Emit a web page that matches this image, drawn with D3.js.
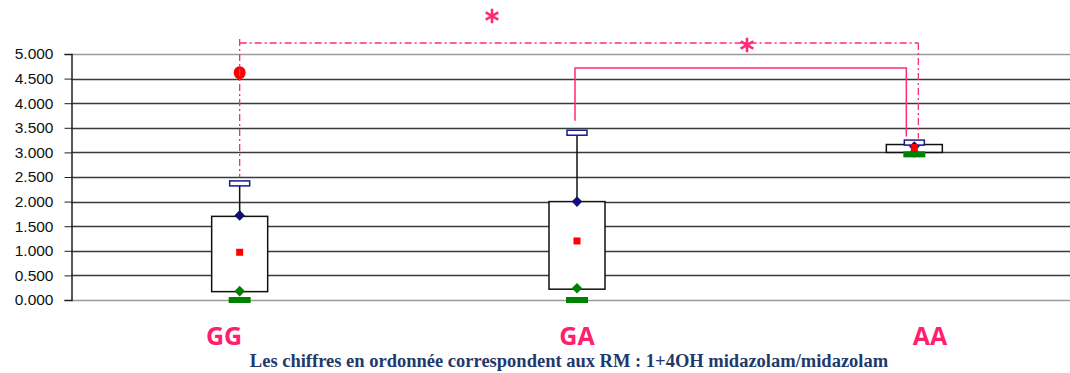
<!DOCTYPE html>
<html><head><meta charset="utf-8">
<script src="https://cdn.jsdelivr.net/npm/d3@7"></script>
<style>body{margin:0;background:#fff;}svg{display:block;}</style>
</head><body><svg id="c" width="1070" height="373"></svg>
<script>
const categories = ["GG", "GA", "AA"];
const boxLow = [0.17, 0.22, 3.00];
const boxHigh = [1.70, 2.00, 3.16];
const capMax = [2.37, 3.40, 3.20];
const q3Marker = [1.72, 2.00, 3.12];
const meanVals = [0.97, 1.20, 3.10];
const q1Marker = [0.18, 0.24, 3.00];
const minBar = [0.00, 0.00, 2.96];
const outliers = [[4.62], [], []];
const yTicks = [0, 0.5, 1, 1.5, 2, 2.5, 3, 3.5, 4, 4.5, 5];
const caption = "Les chiffres en ordonnée correspondent aux RM : 1+4OH midazolam/midazolam";

const svg = d3.select("#c");
const x = d3.scalePoint().domain(categories).range([71, 1083]).padding(0.5);
const xLabel = d3.scalePoint().domain(categories).range([224, 930]);
const y = d3.scaleLinear().domain([0, 5]).range([300, 54]);
const pink = "#ff2a7a";

// gridlines
svg.append("g").selectAll("line").data(yTicks).join("line")
  .attr("x1", 71).attr("x2", 1070)
  .attr("y1", d => Math.round(y(d)) + 0.5).attr("y2", d => Math.round(y(d)) + 0.5)
  .attr("stroke", d => (d === 0 || d === 5) ? "#9a9a9a" : "#3a3a3a")
  .attr("stroke-width", 1.5);

// y axis
const ax = svg.append("g").attr("transform", "translate(71.5,0)")
  .call(d3.axisLeft(y).tickValues(yTicks).tickSize(7).tickPadding(11)
    .tickFormat(d => d3.format(".3f")(d)));
ax.select(".domain").attr("stroke", "#222").attr("stroke-width", 1.5);
ax.selectAll(".tick line").attr("stroke", "#222");
ax.selectAll(".tick text").attr("font-family", "Liberation Sans, Arial, sans-serif")
  .attr("font-size", 15.5).attr("fill", "#111");

const idx = categories.map((c, i) => i);
const g = svg.append("g");
// whiskers
g.selectAll(".wh").data(idx).join("line")
  .attr("x1", i => x(categories[i])).attr("x2", i => x(categories[i]))
  .attr("y1", i => y(boxHigh[i])).attr("y2", i => y(capMax[i]))
  .attr("stroke", "#111").attr("stroke-width", 1.5);
// boxes
g.selectAll(".bx").data(idx).join("rect")
  .attr("x", i => x(categories[i]) - 28).attr("width", 56)
  .attr("y", i => y(boxHigh[i])).attr("height", i => y(boxLow[i]) - y(boxHigh[i]))
  .attr("fill", "#fff").attr("stroke", "#111").attr("stroke-width", 1.5);
// green bars (min)
g.selectAll(".gb").data(idx).join("rect")
  .attr("x", i => x(categories[i]) - 11).attr("width", 22)
  .attr("y", i => y(minBar[i]) - 3).attr("height", 6)
  .attr("fill", "#008000");
// cap rectangles
g.selectAll(".cap").data(idx).join("rect")
  .attr("x", i => x(categories[i]) - 10).attr("width", 20)
  .attr("y", i => y(capMax[i]) - 2.5).attr("height", 5)
  .attr("fill", "#fff").attr("stroke", "#1a1a8a").attr("stroke-width", 1.5);
// diamonds
const sq = d3.symbol().type(d3.symbolSquare).size(56);
g.selectAll(".gd").data(idx).join("path")
  .attr("d", sq)
  .attr("transform", i => `translate(${x(categories[i])},${y(q1Marker[i])}) rotate(45)`)
  .attr("fill", "#008000");
g.selectAll(".bd").data(idx).join("path")
  .attr("d", sq)
  .attr("transform", i => `translate(${x(categories[i])},${y(q3Marker[i])}) rotate(45)`)
  .attr("fill", "#10107a");
// means
g.selectAll(".mn").data(idx).join("rect")
  .attr("x", i => x(categories[i]) - 3.5).attr("width", 7)
  .attr("y", i => y(meanVals[i]) - 3.5).attr("height", 7)
  .attr("fill", "#ff0000");
// outliers
const outPts = [];
outliers.forEach((arr, i) => arr.forEach(v => outPts.push([i, v])));
g.selectAll(".out").data(outPts).join("ellipse")
  .attr("cx", d => x(categories[d[0]])).attr("cy", d => y(d[1]))
  .attr("rx", 6).attr("ry", 6.5).attr("fill", "#ff0000");

// significance brackets
const xGG = x("GG"), xGA = x("GA"), xAA = x("AA");
const b1y = 43, b2y = 68;
const dd = "7,3,2,3";
svg.append("path")
  .attr("d", `M${xGG},${b1y}H${xAA + 4}`)
  .attr("stroke", pink).attr("stroke-width", 1.3).attr("fill", "none").attr("stroke-dasharray", dd);
svg.append("path")
  .attr("d", `M${xGG},${b1y - 4}V${y(capMax[0]) - 6}`)
  .attr("stroke", pink).attr("stroke-width", 1.3).attr("fill", "none").attr("stroke-dasharray", dd);
svg.append("path")
  .attr("d", `M${xAA + 4},${b1y}V${y(capMax[2]) - 4}`)
  .attr("stroke", pink).attr("stroke-width", 1.3).attr("fill", "none").attr("stroke-dasharray", dd);
svg.append("path")
  .attr("d", `M${xGA - 2},${y(capMax[1]) - 12}V${b2y}H${xAA - 8}V${y(capMax[2]) - 6}`)
  .attr("stroke", pink).attr("stroke-width", 1.5).attr("fill", "none");
const star = d3.symbol().type(d3.symbolAsterisk).size(150);
[[492, 16], [747, 45]].forEach(p => {
  svg.append("path").attr("d", star).attr("transform", `translate(${p[0]},${p[1]})`)
    .attr("stroke", pink).attr("stroke-width", 2.6).attr("fill", "none");
});

// category labels
svg.append("g").selectAll("text").data(categories).join("text")
  .attr("x", d => xLabel(d)).attr("y", 345).attr("text-anchor", "middle")
  .attr("font-family", "Open Sans, Liberation Sans, sans-serif").attr("font-weight", "bold")
  .attr("font-size", 25).attr("fill", "#ff1f6e").text(d => d);

// caption
svg.append("text").attr("x", 569).attr("y", 367).attr("text-anchor", "middle")
  .attr("font-family", "Liberation Serif, Times New Roman, serif").attr("font-weight", "bold")
  .attr("font-size", 18.5).attr("fill", "#1f3a6a").text(caption);
</script></body></html>
